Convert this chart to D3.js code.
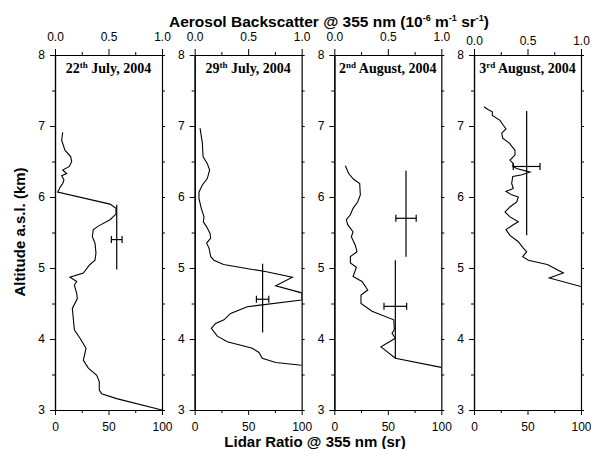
<!DOCTYPE html>
<html>
<head>
<meta charset="utf-8">
<script src="https://cdn.jsdelivr.net/npm/d3@7"></script>
<style>
body { margin: 0; background: #fff; }
svg text { font-family: "Liberation Sans", Arial, sans-serif; fill: #000; }
</style>
</head>
<body>
<svg id="chart" width="591" height="449"></svg>
<script>
// fechas de cada panel
const panelDays = ["22", "29", "2", "3"];
const panelSuffix = ["th", "th", "nd", "rd"];
const panelMonths = ["July, 2004", "July, 2004", "August, 2004", "August, 2004"];

// ejes
const altTicks = [3, 4, 5, 6, 7, 8];
const betaTicks = [0.0, 0.5, 1.0];
const lrTicks = [0, 50, 100];

// perfiles de retrodispersion: [backscatter, altitud km]
const profile22Jul = [[0.072,6.91],[0.062,6.80],[0.093,6.66],[0.146,6.57],[0.156,6.50],[0.134,6.43],[0.072,6.38],[0.109,6.33],[0.062,6.30],[0.084,6.24],[0.072,6.19],[0.053,6.15],[0.025,6.07],[0.514,5.90],[0.570,5.84],[0.570,5.76],[0.514,5.68],[0.405,5.59],[0.358,5.54],[0.349,5.44],[0.374,5.35],[0.383,5.21],[0.374,5.11],[0.321,5.04],[0.265,4.93],[0.140,4.87],[0.203,4.81],[0.181,4.76],[0.203,4.64],[0.209,4.57],[0.162,4.43],[0.171,4.29],[0.181,4.13],[0.234,4.01],[0.290,3.87],[0.265,3.70],[0.312,3.59],[0.390,3.49],[0.414,3.40],[0.414,3.28],[0.436,3.23],[0.576,3.16],[1.0,3.0]];
const profile29Jul = [[0.050,6.97],[0.072,6.76],[0.078,6.57],[0.118,6.47],[0.140,6.38],[0.118,6.26],[0.072,6.17],[0.040,6.07],[0.040,5.98],[0.062,5.84],[0.087,5.72],[0.081,5.65],[0.112,5.58],[0.143,5.49],[0.150,5.42],[0.112,5.35],[0.134,5.28],[0.150,5.16],[0.180,5.11],[0.270,5.05],[0.540,4.98],[0.660,4.95],[0.913,4.87],[0.757,4.75],[1.0,4.65],[1.0,4.55],[0.492,4.455],[0.336,4.36],[0.274,4.27],[0.196,4.22],[0.156,4.15],[0.212,4.04],[0.305,3.96],[0.539,3.87],[0.601,3.81],[0.632,3.73],[0.757,3.67],[1.0,3.63]];
const profile02Aug = [[0.103,6.44],[0.134,6.33],[0.180,6.25],[0.237,6.19],[0.243,6.03],[0.218,5.93],[0.175,5.84],[0.150,5.75],[0.112,5.68],[0.125,5.61],[0.175,5.51],[0.159,5.44],[0.196,5.32],[0.212,5.23],[0.150,5.16],[0.150,5.07],[0.206,5.01],[0.175,4.88],[0.259,4.81],[0.312,4.69],[0.249,4.62],[0.249,4.50],[0.352,4.39],[0.555,4.27],[0.561,4.13],[0.539,4.08],[0.570,4.01],[0.436,3.89],[0.570,3.73],[1.0,3.60]];
const profile03Aug = [[0.093,7.27],[0.134,7.23],[0.171,7.20],[0.171,7.15],[0.243,7.08],[0.274,7.01],[0.299,6.96],[0.259,6.90],[0.268,6.83],[0.330,6.76],[0.383,6.66],[0.383,6.59],[0.336,6.52],[0.367,6.47],[0.362,6.43],[0.399,6.40],[0.523,6.35],[0.439,6.31],[0.362,6.29],[0.352,6.19],[0.367,6.12],[0.299,6.08],[0.352,6.03],[0.414,6.00],[0.399,5.93],[0.336,5.86],[0.290,5.79],[0.336,5.72],[0.414,5.65],[0.367,5.61],[0.299,5.54],[0.336,5.46],[0.414,5.37],[0.461,5.28],[0.492,5.23],[0.455,5.16],[0.508,5.11],[0.685,5.05],[0.835,4.93],[0.704,4.86],[1.0,4.74]];
const profiles = [profile22Jul, profile29Jul, profile02Aug, profile03Aug];

// razon lidar con errores: panel, LR (sr), error LR, altitud, capa min, capa max
const lrPanel = [0, 1, 2, 2, 3];
const lrValue = [57.7, 63.5, 57.0, 67.0, 49.2];
const lrError = [5.0, 5.8, 10.6, 9.5, 12.5];
const lrAlt = [5.40, 4.56, 4.46, 5.70, 6.43];
const lrBase = [4.98, 4.09, 3.73, 5.16, 5.46];
const lrTop = [5.89, 5.06, 5.11, 6.37, 7.21];

const svg = d3.select("#chart");

const plotTop = 55, plotBottom = 410;
const panel = d3.scaleBand()
    .domain(d3.range(4))
    .range([55, 581])
    .paddingInner(0.234)
    .paddingOuter(0);
const w = panel.bandwidth();

const y = d3.scaleLinear().domain([3, 8]).range([plotBottom, plotTop]);
const xBeta = d3.scaleLinear().domain([0, 1]).range([0, w]);
const xLR = d3.scaleLinear().domain([0, 100]).range([0, w]);

const minorAlt = d3.range(3.5, 8, 1);
const allAlt = d3.range(3, 8.01, 0.5);

const line = d3.line()
    .x(d => xBeta(d[0]))
    .y(d => y(d[1]));

// ---------------- paneles ----------------
d3.range(4).forEach(i => {
    const g = svg.append("g")
        .attr("transform", "translate(" + panel(i) + ",0)");

    g.append("clipPath").attr("id", "clip" + i)
        .append("rect")
        .attr("x", 0).attr("y", plotTop)
        .attr("width", w).attr("height", plotBottom - plotTop);

    // eje izquierdo
    g.append("g")
        .call(d3.axisLeft(y).tickValues(altTicks).tickSize(5).tickSizeOuter(0).tickPadding(5).tickFormat(d3.format("d")));
    g.append("g")
        .call(d3.axisLeft(y).tickValues(minorAlt).tickSize(3).tickSizeOuter(0).tickFormat(""));
    // eje derecho
    g.append("g")
        .attr("transform", "translate(" + w + ",0)")
        .call(d3.axisRight(y).tickValues(allAlt).tickSize(3).tickSizeOuter(0).tickFormat(""));
    // eje superior (backscatter)
    g.append("g")
        .attr("transform", "translate(0," + plotTop + ")")
        .call(d3.axisTop(xBeta).tickValues(betaTicks).tickSize(6).tickSizeOuter(0)
            .tickPadding(i === 3 ? 4 : 8).tickFormat(d3.format(".1f")));
    g.append("g")
        .attr("transform", "translate(0," + plotTop + ")")
        .call(d3.axisTop(xBeta).tickValues([0.25, 0.75]).tickSize(3).tickSizeOuter(0).tickFormat(""));
    // eje inferior (lidar ratio)
    g.append("g")
        .attr("transform", "translate(0," + plotBottom + ")")
        .call(d3.axisBottom(xLR).tickValues(lrTicks).tickSize(5).tickSizeOuter(0).tickPadding(7).tickFormat(d3.format("d")));
    g.append("g")
        .attr("transform", "translate(0," + plotBottom + ")")
        .call(d3.axisBottom(xLR).tickValues([25, 75]).tickSize(3).tickSizeOuter(0).tickFormat(""));

    // perfil
    g.append("path")
        .datum(profiles[i])
        .attr("clip-path", "url(#clip" + i + ")")
        .attr("fill", "none")
        .attr("stroke", "#000")
        .attr("stroke-width", 1.1)
        .attr("d", line);

    // etiqueta de fecha
    const t = g.append("text")
        .attr("x", w / 2)
        .attr("y", 73)
        .attr("text-anchor", "middle")
        .style("font-family", "'Liberation Serif', 'Times New Roman', serif")
        .style("font-weight", "bold")
        .style("font-size", "14px");
    t.append("tspan").text(panelDays[i]);
    t.append("tspan").attr("dy", -5).style("font-size", "9px").text(panelSuffix[i]);
    t.append("tspan").attr("dy", 5).text(" " + panelMonths[i]);
});

svg.selectAll(".domain").attr("stroke", "#000").attr("stroke-width", 1.2);
svg.selectAll(".tick line").attr("stroke", "#000");
svg.selectAll(".tick text").style("font-size", "12px").style("font-family", "'Liberation Sans', Arial, sans-serif");

// ---------------- barras de error de la razon lidar ----------------
lrValue.forEach((v, k) => {
    const g = svg.append("g")
        .attr("transform", "translate(" + panel(lrPanel[k]) + ",0)")
        .attr("stroke", "#000")
        .attr("stroke-width", 1.2);
    const xc = xLR(v);
    const x0 = xLR(v - lrError[k]);
    const x1 = xLR(v + lrError[k]);
    const yc = y(lrAlt[k]);
    g.append("line").attr("x1", xc).attr("x2", xc).attr("y1", y(lrBase[k])).attr("y2", y(lrTop[k]));
    g.append("line").attr("x1", x0).attr("x2", x1).attr("y1", yc).attr("y2", yc);
    g.append("line").attr("x1", x0).attr("x2", x0).attr("y1", yc - 3.5).attr("y2", yc + 3.5);
    g.append("line").attr("x1", x1).attr("x2", x1).attr("y1", yc - 3.5).attr("y2", yc + 3.5);
});

// ---------------- titulos ----------------
const tt = svg.append("text")
    .attr("x", 329)
    .attr("y", 27)
    .attr("text-anchor", "middle")
    .style("font-weight", "bold")
    .style("font-size", "15.5px");
tt.append("tspan").text("Aerosol Backscatter @ 355 nm (10");
tt.append("tspan").attr("dy", -6).style("font-size", "9px").text("-6");
tt.append("tspan").attr("dy", 6).text(" m");
tt.append("tspan").attr("dy", -6).style("font-size", "9px").text("-1");
tt.append("tspan").attr("dy", 6).text(" sr");
tt.append("tspan").attr("dy", -6).style("font-size", "9px").text("-1");
tt.append("tspan").attr("dy", 6).text(")");

svg.append("text")
    .attr("x", 315)
    .attr("y", 447)
    .attr("text-anchor", "middle")
    .style("font-weight", "bold")
    .style("font-size", "15px")
    .text("Lidar Ratio @ 355 nm (sr)");

svg.append("text")
    .attr("transform", "translate(25,232) rotate(-90)")
    .attr("text-anchor", "middle")
    .style("font-weight", "bold")
    .style("font-size", "15px")
    .text("Altitude a.s.l. (km)");
</script>
</body>
</html>
